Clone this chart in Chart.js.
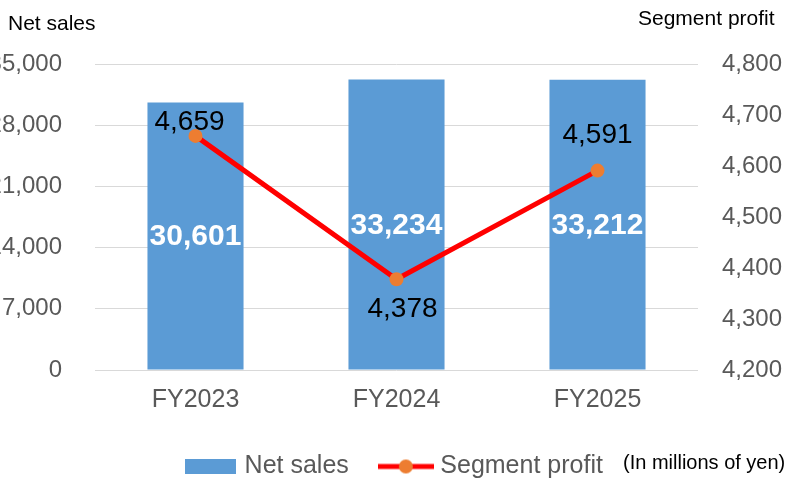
<!DOCTYPE html>
<html>
<head>
<meta charset="utf-8">
<script src="https://cdn.jsdelivr.net/npm/chart.js@4.4.1/dist/chart.umd.min.js"></script>
<style>
  html, body { margin: 0; padding: 0; background: #ffffff; }
  #wrap { position: relative; width: 791px; height: 481px; overflow: hidden; }
  #c { position: absolute; left: 0; top: 0; }
  .txt { position: absolute; font-family: "Liberation Sans", Arial, sans-serif; color: #000; white-space: nowrap; }
</style>
</head>
<body>
<div id="wrap">
  <canvas id="c" width="791" height="481"></canvas>
  <div class="txt" style="left:8px; top:12px; font-size:21px; line-height:21px;">Net sales</div>
  <div class="txt" style="left:638px; top:7px; font-size:21px; line-height:21px;">Segment profit</div>
  <div class="txt" style="left:623px; top:452px; font-size:20px; line-height:20px;">(In millions of yen)</div>
</div>
<script>
// ---- data ----
const categories = ['FY2023', 'FY2024', 'FY2025'];
const netSales = [30601, 33234, 33212];
const segmentProfit = [4659, 4378, 4591];
const salesTicks = [0, 7000, 14000, 21000, 28000, 35000];
const profitTicks = [4200, 4300, 4400, 4500, 4600, 4700, 4800];

const FONT = '"Liberation Sans", Arial, sans-serif';
const BAR_COLOR = '#5B9BD5';
const LINE_COLOR = '#FF0000';
const POINT_COLOR = '#ED7D31';
const TICK_COLOR = '#595959';
const fmt = v => Number(v).toLocaleString('en-US');

// legend symbols
function makeBarSymbol() {
  const c = document.createElement('canvas');
  c.width = 51; c.height = 15;
  const x = c.getContext('2d');
  x.fillStyle = BAR_COLOR; x.fillRect(0, 0, 51, 15);
  return c;
}
function makeLineSymbol() {
  const c = document.createElement('canvas');
  c.width = 56; c.height = 16;
  const x = c.getContext('2d');
  x.strokeStyle = LINE_COLOR; x.lineWidth = 5;
  x.beginPath(); x.moveTo(0, 8); x.lineTo(56, 8); x.stroke();
  x.fillStyle = POINT_COLOR;
  x.beginPath(); x.arc(28, 8, 7, 0, Math.PI * 2); x.fill();
  return c;
}
const barSym = makeBarSymbol();
const lineSym = makeLineSymbol();

// label offsets for the line labels (style)
const lineLabelOffsets = [[-6, -14], [6, 30], [0, -35]];

const labelPlugin = {
  id: 'valueLabels',
  afterDatasetsDraw(chart) {
    const ctx = chart.ctx;
    ctx.save();
    ctx.textAlign = 'center';
    ctx.textBaseline = 'middle';
    const bm = chart.getDatasetMeta(0);
    ctx.font = 'bold 30px ' + FONT;
    ctx.fillStyle = '#ffffff';
    bm.data.forEach((el, i) => {
      const p = el.getProps(['x', 'y', 'base'], true);
      ctx.fillText(fmt(chart.data.datasets[0].data[i]), p.x, (p.y + p.base) / 2 + 1);
    });
    const lm = chart.getDatasetMeta(1);
    ctx.font = '28px ' + FONT;
    ctx.fillStyle = '#000000';
    lm.data.forEach((el, i) => {
      const p = el.getProps(['x', 'y'], true);
      const o = lineLabelOffsets[i];
      ctx.fillText(fmt(chart.data.datasets[1].data[i]), p.x + o[0], p.y + o[1]);
    });
    ctx.restore();
  }
};

new Chart(document.getElementById('c'), {
  data: {
    labels: categories,
    datasets: [
      {
        type: 'bar',
        label: 'Net sales',
        data: netSales,
        yAxisID: 'y',
        backgroundColor: BAR_COLOR,
        borderWidth: 0,
        categoryPercentage: 1,
        barPercentage: 0.478,
        order: 2
      },
      {
        type: 'line',
        label: 'Segment profit',
        data: segmentProfit,
        yAxisID: 'y1',
        borderColor: LINE_COLOR,
        borderWidth: 5,
        pointRadius: 7,
        pointHoverRadius: 7,
        pointBackgroundColor: POINT_COLOR,
        pointBorderWidth: 0,
        tension: 0,
        fill: false,
        order: 1
      }
    ]
  },
  options: {
    responsive: false,
    animation: false,
    devicePixelRatio: 1,
    layout: { padding: { top: 64, left: 0, right: 0, bottom: 0 } },
    plugins: {
      tooltip: { enabled: false },
      legend: {
        position: 'bottom',
        align: 'center',
        maxHeight: 62,
        labels: {
          usePointStyle: true,
          pointStyleWidth: 44,
          padding: 35,
          color: TICK_COLOR,
          font: { family: FONT, size: 25 },
          generateLabels: () => [
            { text: 'Net sales', pointStyle: barSym, fillStyle: BAR_COLOR, strokeStyle: BAR_COLOR, lineWidth: 0, hidden: false, datasetIndex: 0, fontColor: TICK_COLOR },
            { text: 'Segment profit', pointStyle: lineSym, fillStyle: POINT_COLOR, strokeStyle: LINE_COLOR, lineWidth: 0, hidden: false, datasetIndex: 1, fontColor: TICK_COLOR }
          ]
        }
      }
    },
    scales: {
      x: {
        type: 'category',
        offset: true,
        afterFit: s => { s.height = 49; },
        grid: { display: false, drawTicks: false },
        border: { display: false },
        ticks: {
          color: TICK_COLOR,
          font: { family: FONT, size: 25, lineHeight: '42px' },
          padding: 9,
          maxRotation: 0,
          autoSkip: false
        }
      },
      y: {
        type: 'linear',
        position: 'left',
        min: 0,
        max: 35000,
        afterFit: s => { s.width = 95; },
        afterBuildTicks: s => { s.ticks = salesTicks.map(v => ({ value: v })); },
        grid: { color: '#D9D9D9', lineWidth: 1, drawTicks: false },
        border: { display: false },
        ticks: {
          color: TICK_COLOR,
          font: { family: FONT, size: 24 },
          padding: 33,
          callback: v => fmt(v)
        }
      },
      y1: {
        type: 'linear',
        position: 'right',
        min: 4200,
        max: 4800,
        afterFit: s => { s.width = 93; },
        afterBuildTicks: s => { s.ticks = profitTicks.map(v => ({ value: v })); },
        grid: { display: false, drawTicks: false },
        border: { display: false },
        ticks: {
          color: TICK_COLOR,
          font: { family: FONT, size: 24 },
          padding: 24,
          callback: v => fmt(v)
        }
      }
    }
  },
  plugins: [labelPlugin]
});
</script>
</body>
</html>
